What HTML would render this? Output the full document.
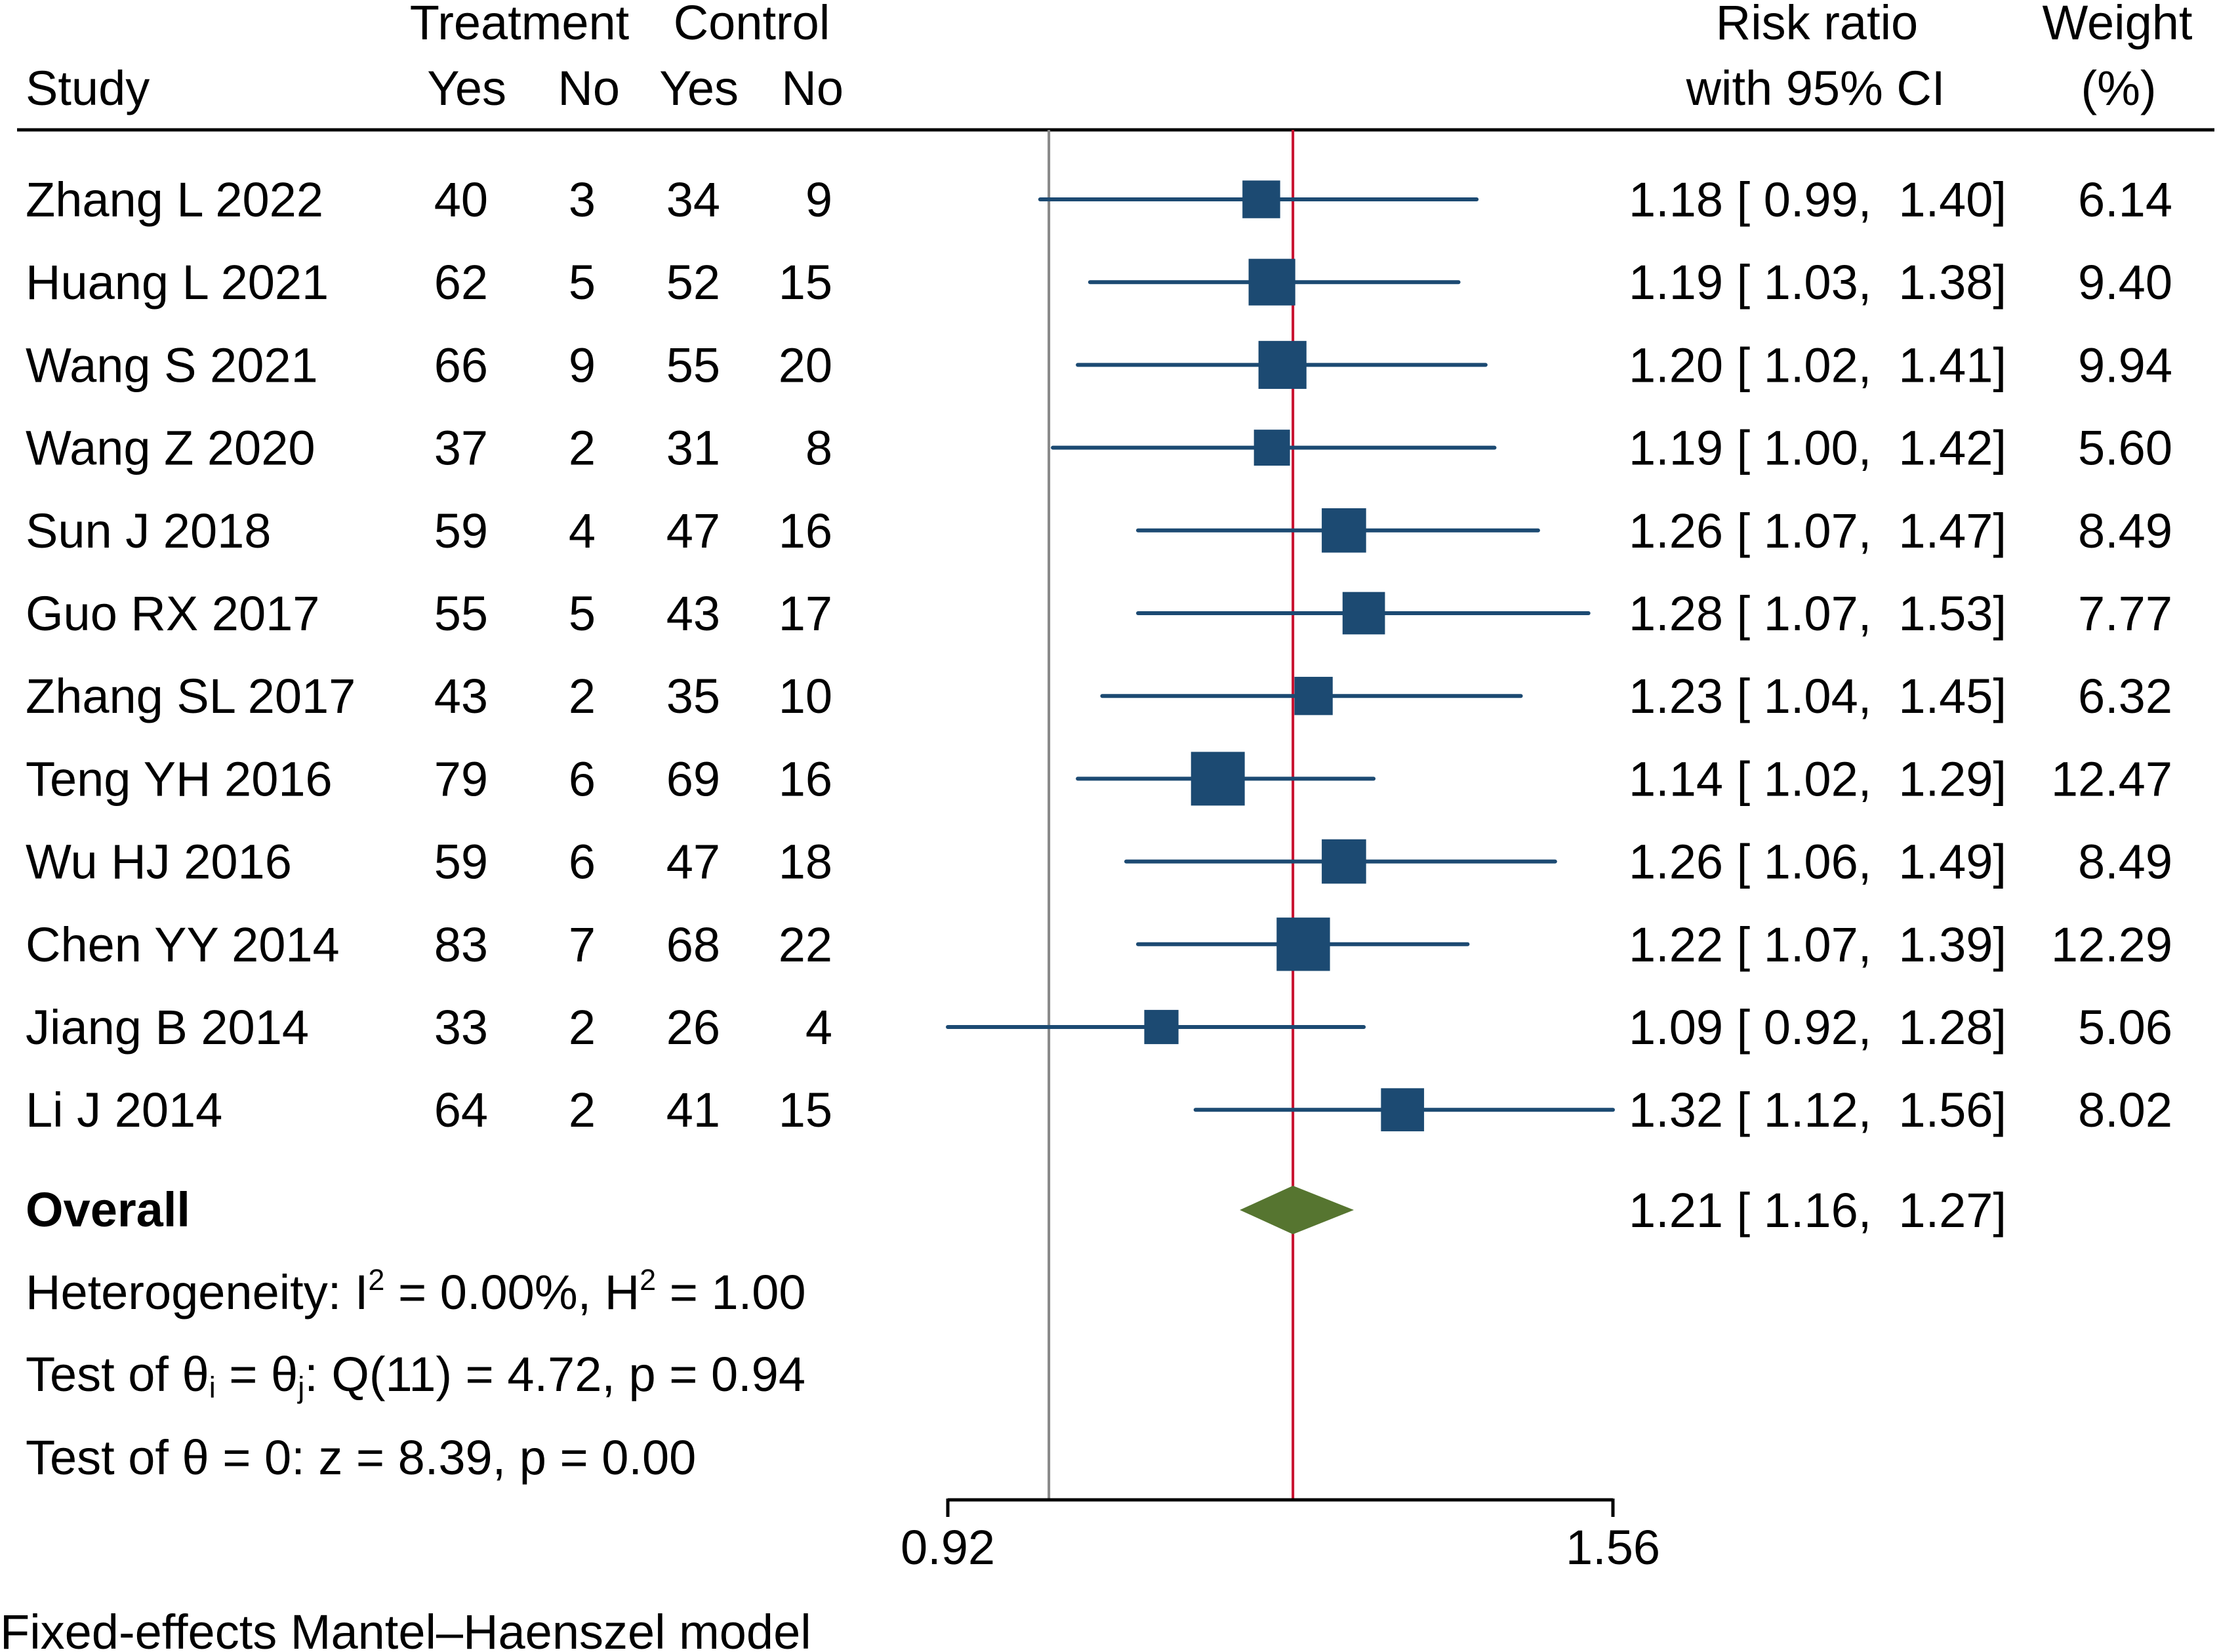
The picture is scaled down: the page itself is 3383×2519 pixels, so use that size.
<!DOCTYPE html>
<html><head><meta charset="utf-8"><style>
html,body{margin:0;padding:0;background:#fff}
svg{display:block}
text{font-family:"Liberation Sans",Arial,sans-serif;font-size:74px;fill:#000;white-space:pre}
</style></head><body>
<svg id="chart" width="3383" height="2519" viewBox="0 0 3383 2519" xmlns="http://www.w3.org/2000/svg">
<g>
<text x="792" y="60" text-anchor="middle">Treatment</text>
<text x="1146" y="60" text-anchor="middle">Control</text>
<text x="2770" y="60" text-anchor="middle">Risk ratio</text>
<text x="3228" y="60" text-anchor="middle">Weight</text>
<text x="39" y="160">Study</text>
<text x="772" y="160" text-anchor="end">Yes</text>
<text x="945" y="160" text-anchor="end">No</text>
<text x="1126" y="160" text-anchor="end">Yes</text>
<text x="1286" y="160" text-anchor="end">No</text>
<text x="2768" y="160" text-anchor="middle">with 95% CI</text>
<text x="3230" y="160" text-anchor="middle">(%)</text>
<line x1="26" y1="198" x2="3376" y2="198" stroke="#000" stroke-width="5"/>
</g>
<g id="plot"></g>
<g>
<text x="39" y="1870" font-weight="bold">Overall</text>
<text x="39" y="1996">Heterogeneity: I<tspan font-size="45" dy="-29">2</tspan><tspan dy="29"> = 0.00%, H</tspan><tspan font-size="45" dy="-29">2</tspan><tspan dy="29"> = 1.00</tspan></text>
<text x="39" y="2121">Test of θ<tspan font-size="45" dy="10">i</tspan><tspan dy="-10"> = θ</tspan><tspan font-size="45" dy="10">j</tspan><tspan dy="-10">: Q(11) = 4.72, p = 0.94</tspan></text>
<text x="39" y="2248">Test of θ = 0: z = 8.39, p = 0.00</text>
<text x="0" y="2514">Fixed-effects Mantel–Haenszel model</text>
</g>
</svg>
<script>
const studies=["Zhang L 2022","Huang L 2021","Wang S 2021","Wang Z 2020","Sun J 2018","Guo RX 2017","Zhang SL 2017","Teng YH 2016","Wu HJ 2016","Chen YY 2014","Jiang B 2014","Li J 2014"];
const tYes=[40,62,66,37,59,55,43,79,59,83,33,64];
const tNo=[3,5,9,2,4,5,2,6,6,7,2,2];
const cYes=[34,52,55,31,47,43,35,69,47,68,26,41];
const cNo=[9,15,20,8,16,17,10,16,18,22,4,15];
const rr=[1.18,1.19,1.20,1.19,1.26,1.28,1.23,1.14,1.26,1.22,1.09,1.32];
const lo=[0.99,1.03,1.02,1.00,1.07,1.07,1.04,1.02,1.06,1.07,0.92,1.12];
const hi=[1.40,1.38,1.41,1.42,1.47,1.53,1.45,1.29,1.49,1.39,1.28,1.56];
const weights=[6.14,9.40,9.94,5.60,8.49,7.77,6.32,12.47,8.49,12.29,5.06,8.02];
const overall=[1.21,1.16,1.27];
const ticks=[0.92,1.56];

const NS="http://www.w3.org/2000/svg";
const X0=1445,X1=2459,DMIN=0.92,DMAX=1.56;
function xs(v){return X0+(Math.log(v)-Math.log(DMIN))/(Math.log(DMAX)-Math.log(DMIN))*(X1-X0);}
function ys(i){return 304+i*126.2;}
const plot=document.getElementById('plot');
function el(tag,attrs,parent){const e=document.createElementNS(NS,tag);for(const k in attrs)e.setAttribute(k,attrs[k]);(parent||plot).appendChild(e);return e;}
const f2=v=>v.toFixed(2);
const AXY=2287;
const nl=el('line',{x1:xs(1)-6,y1:198,x2:xs(1)-6,y2:AXY,stroke:'#888',"stroke-width":4});


const ol=el('line',{x1:xs(overall[0]),y1:198,x2:xs(overall[0]),y2:AXY,stroke:'#c8102e',"stroke-width":4});


studies.forEach((s,i)=>{
  const y=ys(i), by=y+26;
  const g=el('g',{});
  
  
  const cols=[[s,39,'start'],[tYes[i],744,'end'],[tNo[i],908,'end'],[cYes[i],1098,'end'],[cNo[i],1269,'end'],[weights[i].toFixed(2),3312,'end']];
  cols.forEach(c=>{const t=el('text',{x:c[1],y:by,"text-anchor":c[2]},g);t.textContent=c[0];
    
    });
  const rt=el('text',{x:2483,y:by},g);
  rt.textContent=f2(rr[i])+" [ "+f2(lo[i])+",  "+f2(hi[i])+"]";
  
  
  const ci=el('line',{x1:xs(lo[i]),y1:y,x2:xs(hi[i]),y2:y,stroke:'#1c4a72',"stroke-width":6,"stroke-linecap":"round"},g);
  
  
  const side=23.2*Math.sqrt(weights[i]);
  const sq=el('rect',{x:xs(rr[i])-side/2,y:y-side/2,width:side,height:side,fill:'#1c4a72'},g);
  
  
});
const oy=1845;
const dm=el('polygon',{points:`${xs(overall[1])},${oy} ${xs(overall[0])},${oy-37} ${xs(overall[2])},${oy} ${xs(overall[0])},${oy+37}`,fill:'#567530'});


const ot=el('text',{x:2483,y:oy+26});
ot.textContent=f2(overall[0])+" [ "+f2(overall[1])+",  "+f2(overall[2])+"]";


const ax=el('line',{x1:xs(ticks[0]),y1:AXY,x2:xs(ticks[ticks.length-1]),y2:AXY,stroke:'#000',"stroke-width":5});


ticks.forEach(t=>{
  const tk=el('line',{x1:xs(t),y1:AXY-2,x2:xs(t),y2:AXY+26,stroke:'#000',"stroke-width":5});
  
  
  const tl=el('text',{x:xs(t),y:AXY+98,"text-anchor":"middle"});
  tl.textContent=t.toFixed(2);
  
  
});
</script>
</body></html>
